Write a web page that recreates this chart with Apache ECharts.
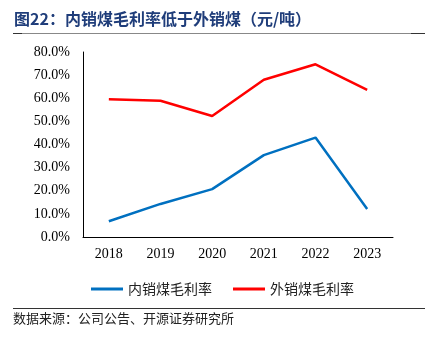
<!DOCTYPE html>
<html><head><meta charset="utf-8">
<script src="https://cdn.jsdelivr.net/npm/echarts@6/dist/echarts.min.js"></script>
<style>html,body{margin:0;padding:0;background:#fff}#c{width:432px;height:340px}</style>
</head><body><div id="c"></div>
<script>
const categories = ['2018','2019','2020','2021','2022','2023'];
const domesticMargin = [6.8, 14.3, 20.7, 35.4, 43.0, 12.1];
const exportMargin = [59.6, 58.9, 52.3, 68.0, 74.7, 63.6];
const seriesNames = ['内销煤毛利率', '外销煤毛利率'];
const titleText = '图22：内销煤毛利率低于外销煤（元/吨）';
const sourceText = '数据来源：公司公告、开源证券研究所';

const chart = echarts.init(document.getElementById('c'));
const cjk = '"Noto Sans CJK SC", sans-serif';
const serif = '"Liberation Serif", "DejaVu Serif", serif';
chart.setOption({
  animation: false,
  grid: {left: 83, right: 39, top: 52, bottom: 103},
  graphic: [
    {type: 'text', left: 14, top: 11, style: {text: titleText, font: 'bold 16px ' + cjk, fill: '#1f3d7a'}},
    {type: 'line', shape: {x1: 13, y1: 33.5, x2: 425, y2: 33.5}, style: {stroke: '#888', lineWidth: 1}},
    {type: 'line', shape: {x1: 13, y1: 33.5, x2: 22, y2: 33.5}, style: {stroke: '#333', lineWidth: 1}},
    {type: 'line', shape: {x1: 411, y1: 33.5, x2: 425, y2: 33.5}, style: {stroke: '#333', lineWidth: 1}},
    {type: 'line', shape: {x1: 13, y1: 308.5, x2: 425, y2: 308.5}, style: {stroke: '#333', lineWidth: 1}},
    {type: 'text', left: 13, top: 312, style: {text: sourceText, font: '13px ' + cjk, fill: '#222'}}
  ],
  legend: {
    left: 86, top: 277, itemWidth: 32, itemHeight: 3, itemGap: 21, icon: 'rect',
    textStyle: {fontFamily: cjk, fontSize: 14, color: '#222'},
    data: seriesNames
  },
  xAxis: {
    type: 'category', data: categories, boundaryGap: true,
    axisLine: {lineStyle: {color: '#000', width: 1}},
    axisTick: {inside: true, length: 4, lineStyle: {color: '#000'}},
    axisLabel: {fontFamily: serif, fontSize: 14, color: '#000', margin: 10}
  },
  yAxis: {
    type: 'value', min: 0, max: 80, interval: 10,
    splitLine: {show: false},
    axisLine: {show: true, lineStyle: {color: '#000', width: 1}},
    axisTick: {show: false},
    axisLabel: {fontFamily: serif, fontSize: 14, color: '#000', margin: 13, formatter: v => v.toFixed(1) + '%'}
  },
  series: [
    {name: seriesNames[0], type: 'line', data: domesticMargin, symbol: 'none', lineStyle: {color: '#0070C0', width: 2.5}, itemStyle: {color: '#0070C0'}},
    {name: seriesNames[1], type: 'line', data: exportMargin, symbol: 'none', lineStyle: {color: '#FF0000', width: 2.5}, itemStyle: {color: '#FF0000'}}
  ]
});
</script></body></html>
